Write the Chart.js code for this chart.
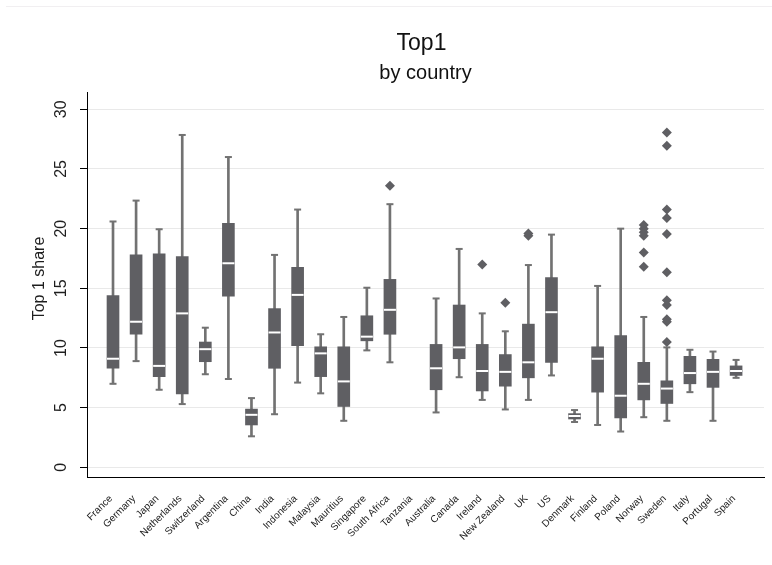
<!DOCTYPE html>
<html>
<head>
<meta charset="utf-8">
<script src="https://cdn.jsdelivr.net/npm/chart.js@4/dist/chart.umd.min.js"></script>
<style>
  html, body { margin: 0; padding: 0; background: #ffffff; }
  canvas { display: block; }
</style>
</head>
<body>
<canvas id="chart" width="772" height="565"></canvas>
<script>
// Top 1% income share by country: box summaries (whiskers, quartiles, median) and outliers
const countries = ['France', 'Germany', 'Japan', 'Netherlands', 'Switzerland', 'Argentina', 'China',
  'India', 'Indonesia', 'Malaysia', 'Mauritius', 'Singapore', 'South Africa', 'Tanzania',
  'Australia', 'Canada', 'Ireland', 'New Zealand', 'UK', 'US', 'Denmark', 'Finland', 'Poland',
  'Norway', 'Sweden', 'Italy', 'Portugal', 'Spain'];

const whiskerLow  = [7.0, 8.9, 6.5, 5.3, 7.8, 7.4, 2.6, 4.45, 7.1, 6.2, 3.9, 9.8, 8.8, null,
  4.6, 7.55, 5.65, 4.85, 5.65, 7.7, 3.8, 3.55, 3.0, 4.2, 3.9, 6.3, 3.9, 7.5];
const quartile1   = [8.3, 11.15, 7.6, 6.15, 8.85, 14.35, 3.55, 8.3, 10.2, 7.6, 5.1, 10.6, 11.15, null,
  6.5, 9.1, 6.4, 6.8, 7.5, 8.8, 4.05, 6.3, 4.15, 5.65, 5.35, 7.0, 6.7, 7.7];
const medians     = [9.1, 12.2, 8.5, 12.9, 9.9, 17.1, 4.4, 11.3, 14.45, 9.55, 7.2, 10.95, 13.2, null,
  8.3, 10.05, 8.07, 8.0, 8.8, 13.0, 4.3, 9.1, 6.0, 7.0, 6.6, 7.9, 8.0, 8.07];
const quartile3   = [14.4, 17.8, 17.9, 17.65, 10.5, 20.45, 4.88, 13.3, 16.75, 10.1, 10.1, 12.7, 15.75, null,
  10.3, 13.6, 10.3, 9.45, 12.0, 15.9, 4.5, 10.1, 11.05, 8.8, 7.25, 9.3, 9.05, 8.5];
const whiskerHigh = [20.6, 22.35, 19.95, 27.85, 11.7, 26.0, 5.8, 17.8, 21.6, 11.15, 12.6, 15.05, 22.05, null,
  14.15, 18.3, 12.9, 11.4, 16.95, 19.5, 4.8, 15.2, 20.0, 12.6, 10.05, 9.85, 9.7, 9.0];
const outliers = [[], [], [], [], [], [], [], [], [], [], [], [], [23.6], [],
  [], [], [17.0], [13.8], [19.4, 19.6], [], [], [], [],
  [16.8, 18.0, 19.4, 19.7, 20.0, 20.3],
  [10.5, 12.2, 12.4, 13.6, 14.0, 16.35, 19.55, 20.9, 21.6, 26.95, 28.05],
  [], [], []];
const yTicks = [0, 5, 10, 15, 20, 25, 30];

const FONT = '"Liberation Sans", Arial, Helvetica, sans-serif';
const BOX_COLOR = '#5f5f63';
const WHISKER_COLOR = '#727272';

// Positions that actually carry a box
const present = countries.map((_, i) => i).filter(i => medians[i] !== null);

const whiskerData = present.map(i => ({ x: i, y: [whiskerLow[i], whiskerHigh[i]] }));
const boxData = present.map(i => ({ x: i, y: [quartile1[i], quartile3[i]] }));
const capData = present.flatMap(i => [{ x: i, y: whiskerLow[i] }, { x: i, y: whiskerHigh[i] }]);
const medianData = present.map(i => ({ x: i, y: medians[i] }));
const outlierData = outliers.flatMap((vals, i) => vals.map(v => ({ x: i, y: v })));

// Title, rotated tick labels, axis title and the faint outer frame
const decorations = {
  id: 'decorations',
  beforeDraw(chart) {
    const { ctx, width } = chart;
    ctx.save();
    ctx.strokeStyle = '#f1eff1';
    ctx.lineWidth = 1;
    ctx.beginPath();
    ctx.moveTo(6, 6.5);
    ctx.lineTo(width, 6.5);
    ctx.stroke();
    ctx.restore();
  },
  afterDraw(chart) {
    const { ctx, chartArea, scales } = chart;
    const x = scales.x;
    const y = scales.y;
    ctx.save();
    ctx.fillStyle = '#1e1e1e';
    ctx.textAlign = 'center';
    ctx.textBaseline = 'middle';
    ctx.font = '16px ' + FONT;
    yTicks.forEach(v => {
      ctx.save();
      ctx.translate(62, y.getPixelForValue(v));
      ctx.rotate(-Math.PI / 2);
      ctx.fillText(String(v), 0, 0);
      ctx.restore();
    });
    ctx.save();
    ctx.translate(40, (chartArea.top + chartArea.bottom) / 2 - 6);
    ctx.rotate(-Math.PI / 2);
    ctx.fillText('Top 1 share', 0, 0);
    ctx.restore();

    // category labels, slanted at 45 degrees and ending under each box
    ctx.font = '10px ' + FONT;
    ctx.fillStyle = '#222222';
    ctx.textAlign = 'right';
    ctx.textBaseline = 'middle';
    countries.forEach((name, i) => {
      ctx.save();
      ctx.translate(x.getPixelForValue(i) - 2, chartArea.bottom + 20);
      ctx.rotate(-Math.PI / 4);
      ctx.fillText(name, 0, 0);
      ctx.restore();
    });

    const cx = (chartArea.left + chartArea.right) / 2;
    ctx.textAlign = 'center';
    ctx.textBaseline = 'alphabetic';
    ctx.fillStyle = '#111111';
    ctx.font = '23px ' + FONT;
    ctx.fillText('Top1', cx - 4, 50);
    ctx.font = '20px ' + FONT;
    ctx.fillText('by country', cx, 79);
    ctx.restore();
  }
};

new Chart(document.getElementById('chart'), {
  data: {
    datasets: [
      {
        type: 'scatter', label: 'Outliers', data: outlierData, order: 0,
        pointStyle: 'rectRot', pointRadius: 5, pointHoverRadius: 5,
        backgroundColor: BOX_COLOR, borderColor: BOX_COLOR, borderWidth: 0
      },
      {
        type: 'scatter', label: 'Median', data: medianData, order: 1,
        pointStyle: 'line', pointRadius: 6, pointHoverRadius: 6,
        borderColor: '#ffffff', borderWidth: 2
      },
      {
        type: 'bar', label: 'Interquartile range', data: boxData, order: 2,
        backgroundColor: BOX_COLOR, borderWidth: 0, barThickness: 12, grouped: false
      },
      {
        type: 'scatter', label: 'Whisker caps', data: capData, order: 3,
        pointStyle: 'line', pointRadius: 3.5, pointHoverRadius: 3.5,
        borderColor: WHISKER_COLOR, borderWidth: 2
      },
      {
        type: 'bar', label: 'Whiskers', data: whiskerData, order: 4,
        backgroundColor: WHISKER_COLOR, borderWidth: 0, barThickness: 2, grouped: false
      }
    ]
  },
  options: {
    responsive: false,
    animation: false,
    events: [],
    layout: { padding: { top: 92, right: 8, bottom: 0, left: 0 } },
    plugins: {
      legend: { display: false },
      tooltip: { enabled: false },
      title: { display: false }
    },
    scales: {
      x: {
        type: 'linear',
        offset: false,
        min: -1.127,
        max: 28.21,
        afterBuildTicks(scale) {
          scale.ticks = countries.map((_, i) => ({ value: i }));
        },
        afterFit(scale) { scale.height = 88; },
        grid: { display: false, drawTicks: false, offset: false },
        border: { display: true, color: '#000000', width: 1 },
        ticks: { display: false }
      },
      y: {
        type: 'linear',
        min: -0.81,
        max: 31.45,
        afterBuildTicks(scale) {
          scale.ticks = yTicks.map(v => ({ value: v }));
        },
        afterFit(scale) { scale.width = 87; },
        grid: { color: '#e9e9e9', lineWidth: 1, drawTicks: true, tickLength: 7, tickColor: '#000000' },
        border: { display: true, color: '#000000', width: 1 },
        ticks: { display: false }
      }
    }
  },
  plugins: [decorations]
});
</script>
</body>
</html>
